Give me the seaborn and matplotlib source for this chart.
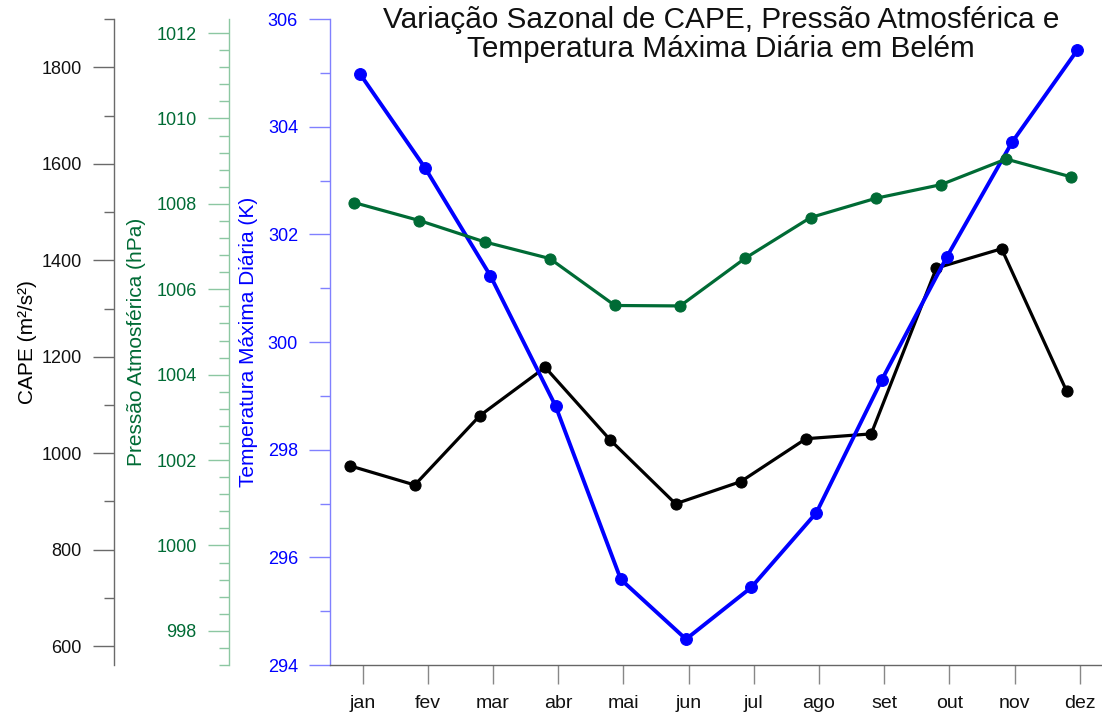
import numpy as np
import matplotlib
matplotlib.use("Agg")
import matplotlib.pyplot as plt
from matplotlib.ticker import MultipleLocator
import seaborn as sns

# Monthly climatology for Belém
meses = ["jan", "fev", "mar", "abr", "mai", "jun", "jul", "ago", "set", "out", "nov", "dez"]
cape = [974, 934, 1078, 1178, 1027, 895, 941, 1030, 1040, 1384, 1424, 1128]
pressao = [1008.03, 1007.61, 1007.11, 1006.72, 1005.62, 1005.61,
           1006.73, 1007.68, 1008.13, 1008.45, 1009.05, 1008.63]
temperatura = [304.98, 303.23, 301.23, 298.81, 295.59, 294.48,
               295.44, 296.83, 299.29, 301.58, 303.71, 305.42]

sns.set_style("white")
plt.rcParams["font.family"] = ["Liberation Sans", "DejaVu Sans"]

C_BLUE = "#0000ff"
C_GREEN = "#006b35"
C_BLACK = "#000000"

W, H = 1102, 713
fig = plt.figure(figsize=(W / 100, H / 100), dpi=100)
fig.patch.set_facecolor("white")
L, R, B, T = 330, 1102, 665, 19
ax_t = fig.add_axes([L / W, 1 - B / H, (R - L) / W, (B - T) / H])
ax_p = ax_t.twinx()
ax_c = ax_t.twinx()

idx = np.arange(len(meses))
# small horizontal shift per series
sns.lineplot(x=idx - 0.20, y=cape, ax=ax_c, color=C_BLACK, marker="o",
             markersize=8, markeredgecolor=C_BLACK, linewidth=2.3, sort=False)
sns.lineplot(x=idx - 0.04, y=temperatura, ax=ax_t, color=C_BLUE, marker="o",
             markersize=8.5, markeredgecolor=C_BLUE, linewidth=2.8, sort=False)
sns.lineplot(x=idx - 0.13, y=pressao, ax=ax_p, color=C_GREEN, marker="o",
             markersize=8, markeredgecolor=C_GREEN, linewidth=2.3, sort=False)

ax_c.set_zorder(1)
ax_t.set_zorder(2)
ax_p.set_zorder(3)
ax_t.patch.set_visible(False)

ax_t.set_xlim(-0.5, 11.34)
ax_t.set_ylim(294, 306)
ax_p.set_ylim(997.2, 1012.33)
ax_c.set_ylim(560.6, 1900.6)

ax_t.set_xticks(idx)
ax_t.set_xticklabels(meses)

axes_cfg = [
    (ax_t, 0.0, "#8080ff", C_BLUE, "Temperatura Máxima Diária (K)", 2, 1, -0.1062),
    (ax_p, -0.1312, "#8cc7a2", C_GREEN, "Pressão Atmosférica (hPa)", 2, 0.4, -0.250),
    (ax_c, -0.2802, "#6a6a6a", "#111111", "CAPE (m²/s²)", 200, 100, -0.3912),
]
for ax, pos, spc, lc, lab, major, minor, lx in axes_cfg:
    for s in ("top", "right", "bottom"):
        ax.spines[s].set_visible(False)
    ax.spines["left"].set_visible(True)
    ax.spines["left"].set_position(("axes", pos))
    ax.spines["left"].set_color(spc)
    ax.spines["left"].set_linewidth(1.0)
    ax.yaxis.tick_left()
    ax.yaxis.set_label_position("left")
    ax.yaxis.set_major_locator(MultipleLocator(major))
    ax.yaxis.set_minor_locator(MultipleLocator(minor))
    ax.tick_params(axis="y", which="major", length=15, width=1, color=spc,
                   labelcolor=lc, labelsize=13, pad=8, direction="out")
    ax.tick_params(axis="y", which="minor", length=7.5, width=1, color=spc,
                   direction="out")
    ax.set_ylabel(lab, color=lc if ax is not ax_c else C_BLACK, fontsize=15)
    ax.yaxis.set_label_coords(lx, 0.5)
    ax.yaxis.label.set_va("center")
    ax.yaxis.label.set_ha("center")
    ax.grid(False)

ax_t.spines["bottom"].set_visible(True)
ax_t.spines["bottom"].set_color("#666666")
ax_t.spines["bottom"].set_linewidth(1.0)
ax_t.tick_params(axis="x", which="major", length=13.7, width=1, color="#888888",
                 labelsize=14, labelcolor="#111111", pad=8, bottom=True)
ax_t.set_xlabel("")
ax_p.set_xlabel("")
ax_c.set_xlabel("")

fig.text(721 / W, 1 - 6 / H,
         "Variação Sazonal de CAPE, Pressão Atmosférica e\nTemperatura Máxima Diária em Belém",
         ha="center", va="top", fontsize=21.4, color="#111111", linespacing=1.05)

fig.savefig("out.png", dpi=100, facecolor="white")
